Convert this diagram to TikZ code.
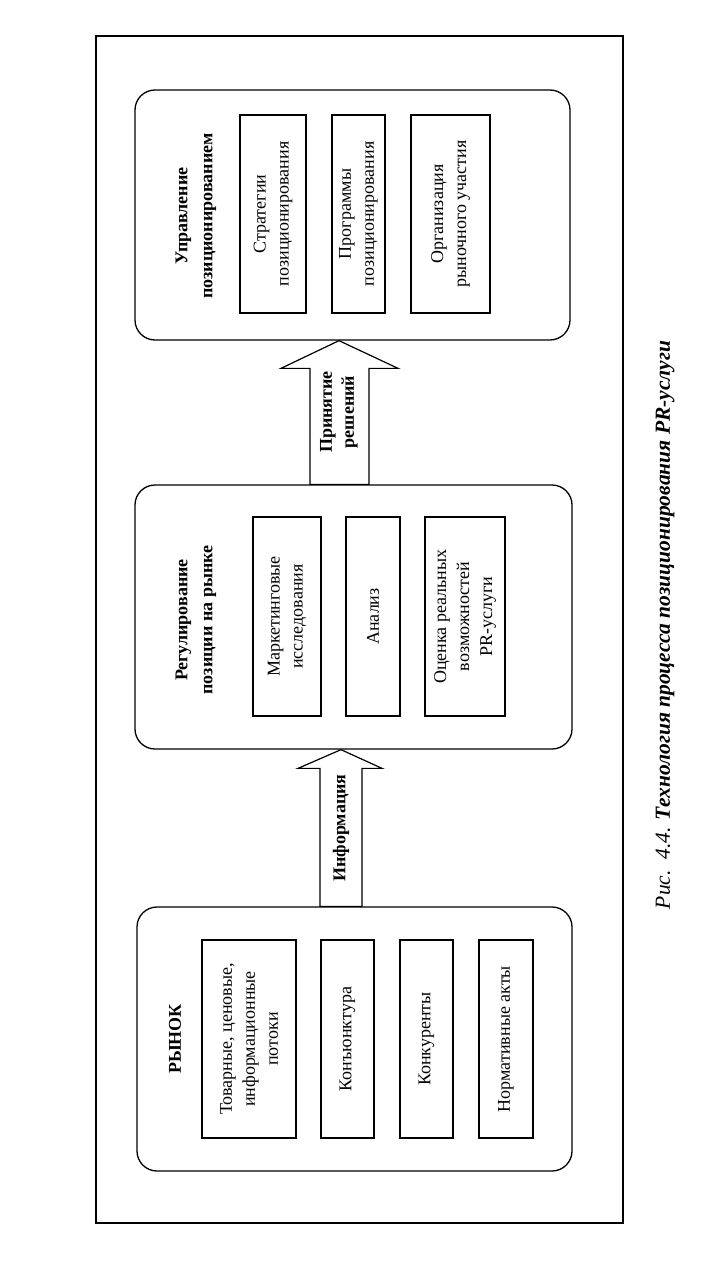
\documentclass[tikz,border=0pt]{standalone}
\usepackage{fontspec}
\setmainfont{Liberation Serif}
\usetikzlibrary{calc}
\tikzset{
  frame/.style={draw, line width=1.4pt},
  bigbox/.style={draw, line width=1.3pt, rounded corners=20pt, inner sep=0pt},
  inbox/.style={draw, line width=1.8pt, rotate=90, align=center, inner sep=0pt,
    font=\fontsize{18pt}{23pt}\selectfont},
  ttl/.style={rotate=90, align=center, inner sep=0pt,
    font=\fontsize{18pt}{25pt}\selectfont\bfseries},
  barrow/.style={draw, fill=white, line width=1.2pt, line join=miter},
  alabel/.style={rotate=90, align=center, inner sep=0pt,
    font=\fontsize{18pt}{22pt}\selectfont\bfseries},
}
\begin{document}
\begin{tikzpicture}[x=1pt,y=-1pt]
\useasboundingbox (0,0) rectangle (709,1274);
\draw[frame] (96,36) rectangle (623,1223);

% big boxes
\node[bigbox, minimum width=435pt, minimum height=250pt] (b1) at (352.5,215) {};
\node[bigbox, minimum width=437pt, minimum height=264pt] (b2) at (353.5,617) {};
\node[bigbox, minimum width=435pt, minimum height=264pt] (b3) at (354.5,1039) {};

% titles
\node[ttl] (t1) at (196,216) {Управление\\позиционированием};
\node[ttl] (t2) at (196,620) {Регулирование\\позиции на рынке};
\node[ttl] (t3) at (175,1039) {РЫНОК};

% box 1 contents
\node[inbox, minimum width=198pt, minimum height=66pt] (s1) at (273,214) {Стратегии\\позиционирования};
\node[inbox, minimum width=198pt, minimum height=53pt] (s2) at (358.5,214) {Программы\\позиционирования};
\node[inbox, minimum width=198pt, minimum height=79pt] (s3) at (450.5,214) {Организация\\рыночного участия};

% box 2 contents
\node[inbox, minimum width=199pt, minimum height=68pt] (r1) at (287,616.5) {Маркетинговые\\исследования};
\node[inbox, minimum width=199pt, minimum height=54pt] (r2) at (373,616.5) {Анализ};
\node[inbox, minimum width=199pt, minimum height=80pt] (r3) at (465,616.5) {Оценка реальных\\возможностей\\PR-услуги};

% box 3 contents
\node[inbox, minimum width=198pt, minimum height=94pt] (m1) at (249,1039) {Товарные, ценовые,\\информационные\\потоки};
\node[inbox, minimum width=198pt, minimum height=53pt] (m2) at (347.5,1039) {Конъюнктура};
\node[inbox, minimum width=198pt, minimum height=53pt] (m3) at (426.5,1039) {Конкуренты};
\node[inbox, minimum width=198pt, minimum height=54pt] (m4) at (506,1039) {Нормативные акты};

% block arrows
\draw[barrow] ($(b2.north)+(-43.5,0)$) -- ++(0,-116) -- ++(-29,0)
  -- ($(b1.south)+(-13.5,0)$) -- ($(b2.north)+(44.5,-116)$) -- ++(-29,0)
  -- ($(b2.north)+(15.5,0)$) -- cycle;
\draw[barrow] ($(b3.north)+(-34.5,0)$) -- ++(0,-138) -- ++(-22,0)
  -- ($(b2.south)+(-12.5,0)$) -- ($(b3.north)+(27.5,-138)$) -- ++(-20,0)
  -- ($(b3.north)+(7.5,0)$) -- cycle;
\node[alabel] (l1) at (339,412) {Принятие\\решений};
\node[alabel] (l2) at (341,828) {Информация};

% caption
\node[rotate=90, inner sep=0pt, font=\fontsize{21.5pt}{26pt}\selectfont] (cap) at (665,625)
  {\itshape Рис.\ \ 4.4. \bfseries Технология процесса позиционирования PR-услуги};
\end{tikzpicture}
\end{document}
